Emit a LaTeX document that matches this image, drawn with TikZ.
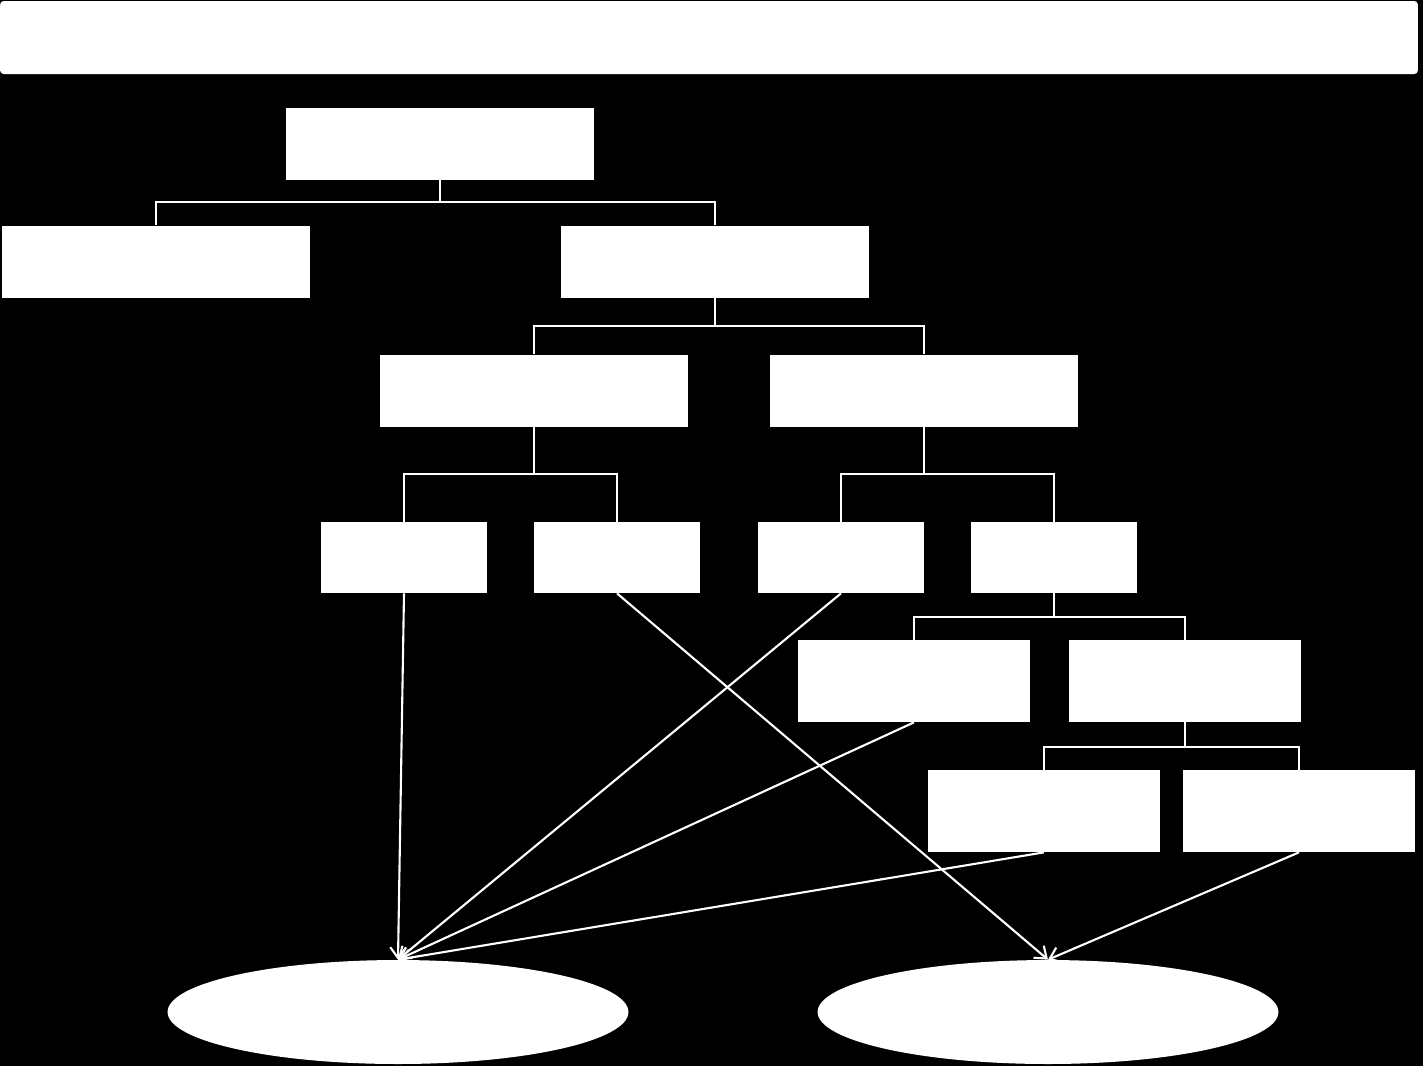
\documentclass[tikz,border=0pt]{standalone}
\usetikzlibrary{positioning,calc,arrows.meta,shapes.geometric}

\begin{document}
\begin{tikzpicture}[
    x=0.02cm, y=-0.02cm,
    box/.style={fill=white, inner sep=0pt, minimum width=6.16cm, minimum height=1.44cm},
    small box/.style={box, minimum width=3.32cm, minimum height=1.42cm},
    wide box/.style={box, minimum width=4.64cm, minimum height=1.64cm},
    final/.style={ellipse, fill=white, inner sep=0pt, minimum width=9.22cm, minimum height=2.08cm},
    tline/.style={white, line width=1.2pt},
    link/.style={-{Straight Barb[length=6pt,width=9pt]}, white, line width=1.2pt}
]
% Black page
\fill[black] (0,0) rectangle (1423,1066);
\useasboundingbox (0,0) rectangle (1423,1066);

% Title bar across the top
\node[fill=white, rounded corners=2pt, inner sep=0pt, minimum width=28.36cm, minimum height=1.46cm] (title) at (709,37.5) {};

% Level 1 and 2
\node[box] (root) at (440,144) {};
\node[box] (L2a) at (156,261.5) {};
\node[box] (L2b) at (715,261.5) {};

% Level 3
\node[box] (L3a) at (534,390.5) {};
\node[box] (L3b) at (924,390.5) {};

% Level 4
\node[small box] (L4a) at (404,557.5) {};
\node[small box] (L4b) at (617,557.5) {};
\node[small box] (L4c) at (841,557.5) {};
\node[small box] (L4d) at (1054,557.5) {};

% Level 5 and 6
\node[wide box] (L5a) at (914,681) {};
\node[wide box] (L5b) at (1185,681) {};
\node[wide box] (L6a) at (1044,811) {};
\node[wide box] (L6b) at (1299,811) {};

% Outcomes
\node[final] (outA) at (398,1012) {};
\node[final] (outB) at (1048,1012) {};

% Tree connectors
\draw[tline] (root.south) -- ++(0,22) -| (L2a.north);
\draw[tline] (root.south) -- ++(0,22) -| (L2b.north);
\draw[tline] (L2b.south) -- ++(0,28) -| (L3a.north);
\draw[tline] (L2b.south) -- ++(0,28) -| (L3b.north);
\draw[tline] (L3a.south) -- ++(0,47) -| (L4a.north);
\draw[tline] (L3a.south) -- ++(0,47) -| (L4b.north);
\draw[tline] (L3b.south) -- ++(0,47) -| (L4c.north);
\draw[tline] (L3b.south) -- ++(0,47) -| (L4d.north);
\draw[tline] (L4d.south) -- ++(0,24) -| (L5a.north);
\draw[tline] (L4d.south) -- ++(0,24) -| (L5b.north);
\draw[tline] (L5b.south) -- ++(0,25) -| (L6a.north);
\draw[tline] (L5b.south) -- ++(0,25) -| (L6b.north);

% Leaves to outcomes
\draw[link] (L4a.south) -- (outA.north);
\draw[link] (L4c.south) -- (outA.north);
\draw[link] (L5a.south) -- (outA.north);
\draw[link] (L6a.south) -- (outA.north);
\draw[link] (L4b.south) -- (outB.north);
\draw[link] (L6b.south) -- (outB.north);

\end{tikzpicture}
\end{document}
